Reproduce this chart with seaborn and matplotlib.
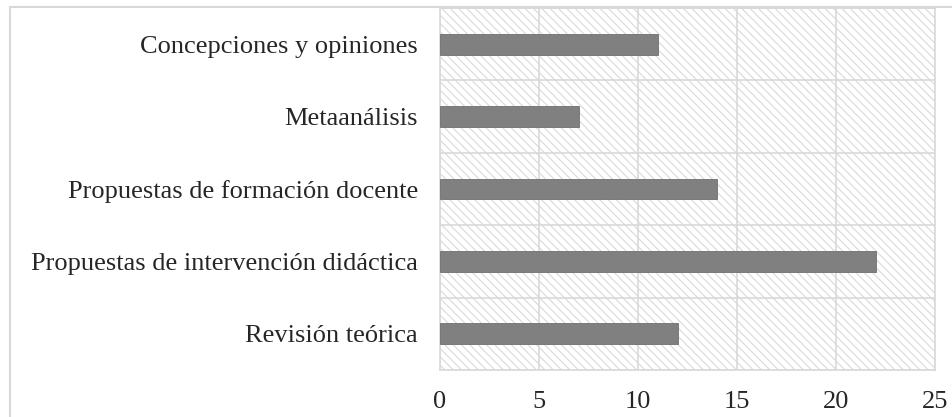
import matplotlib
matplotlib.use('Agg')
import matplotlib.pyplot as plt
import seaborn as sns
import pandas as pd
from matplotlib.patches import Rectangle
from matplotlib.lines import Line2D

# datos ================================================
categorias = ['Concepciones y opiniones', 'Metaanálisis',
              'Propuestas de formación docente',
              'Propuestas de intervención didáctica', 'Revisión teórica']
valores = [11, 7, 14, 22, 12]
xticks = [0, 5, 10, 15, 20, 25]

sns.set_style('white')
plt.rcParams['font.family'] = ['Liberation Serif', 'DejaVu Serif']
plt.rcParams['hatch.color'] = '#dadada'
plt.rcParams['hatch.linewidth'] = 0.8

grid_color = '#d9d9d9'
bar_color = '#808080'

df = pd.DataFrame({'cat': categorias, 'val': valores})

fig = plt.figure(figsize=(9.53, 4.17), dpi=100)
ax = fig.add_axes([440 / 953, 1 - 370 / 417, (935 - 440) / 953, (370 - 8) / 417])

# fondo rayado
ax.add_patch(Rectangle((0, 0), 1, 1, transform=ax.transAxes, facecolor='white',
                       edgecolor=grid_color, hatch='\\\\\\\\', linewidth=0, zorder=0))

sns.barplot(data=df, y='cat', x='val', orient='h', ax=ax, color=bar_color,
            width=0.29, saturation=1, edgecolor='#707070', linewidth=0.6, zorder=3)

ax.set_xlim(0, 25)
ax.set_ylim(len(categorias) - 0.5, -0.5)
ax.set_xticks(xticks)
ax.set_xlabel('')
ax.set_ylabel('')

# rejilla
ax.set_yticks([i - 0.5 for i in range(len(categorias) + 1)], minor=True)
ax.grid(True, axis='x', which='major', color=grid_color, linewidth=1.2, zorder=1)
ax.grid(True, axis='y', which='minor', color=grid_color, linewidth=1.2, zorder=1)
ax.set_axisbelow(True)
ax.tick_params(axis='y', which='minor', length=8, color=grid_color, width=1.2)
ax.tick_params(axis='y', which='major', length=0, pad=16, labelsize=19)
ax.tick_params(axis='x', which='major', length=0, pad=15, labelsize=19)

for s in ax.spines.values():
    s.set_color(grid_color)
    s.set_linewidth(1.2)

# borde del gráfico
fig.add_artist(Line2D([10 / 953, 10 / 953], [0, 1 - 7 / 417], transform=fig.transFigure,
                      color=grid_color, linewidth=1.5))
fig.add_artist(Line2D([10 / 953, 1], [1 - 7 / 417, 1 - 7 / 417], transform=fig.transFigure,
                      color=grid_color, linewidth=1.5))

fig.savefig('out.png', dpi=100)
